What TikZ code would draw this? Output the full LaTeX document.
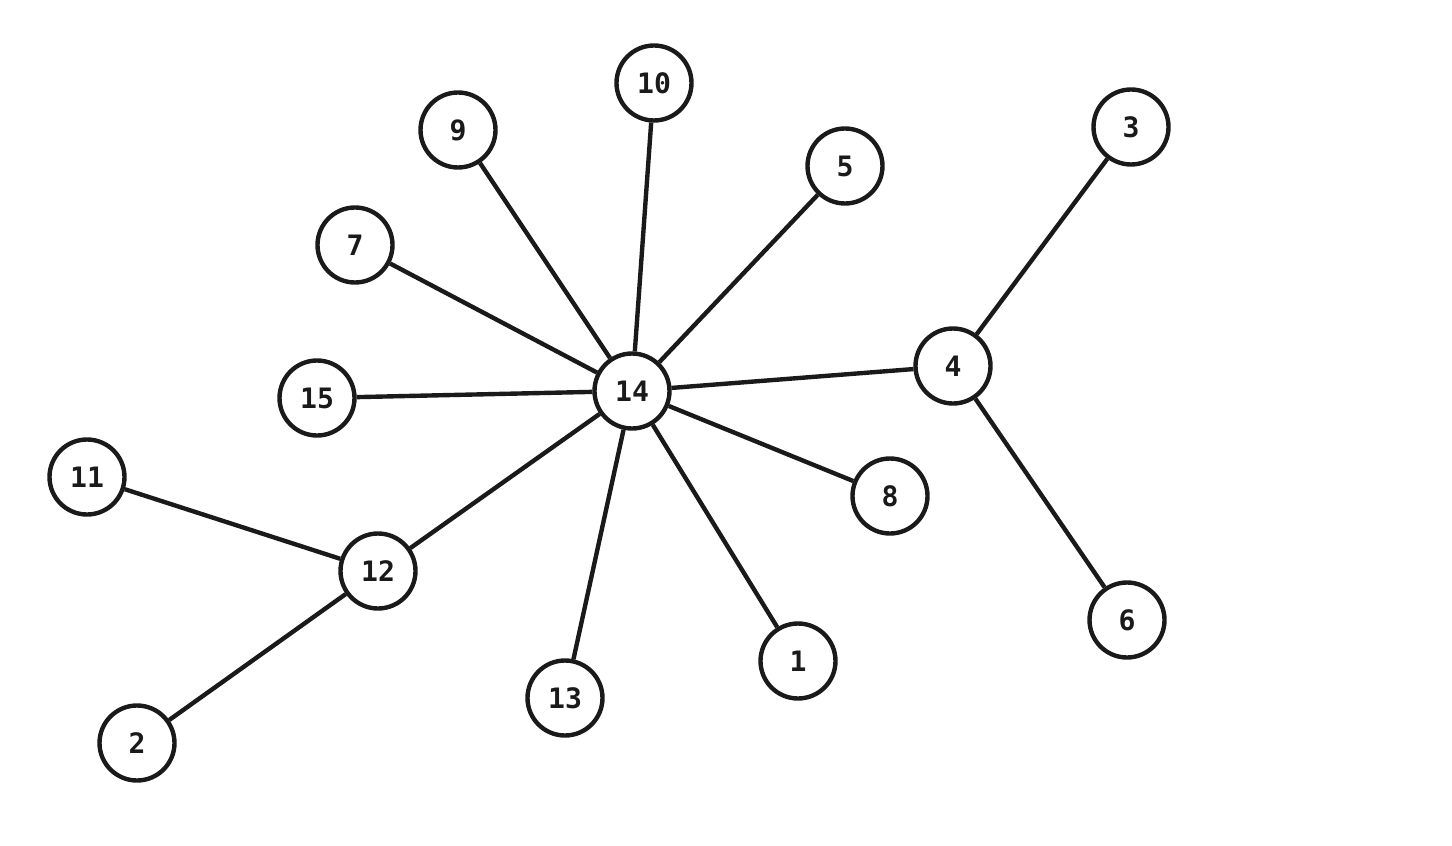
\documentclass[tikz,border=0pt]{standalone}
\usepackage{fontspec}
\setmonofont{DejaVu Sans Mono}
\usepackage{xcolor}
\definecolor{ink}{HTML}{1A1A1A}

\begin{document}
\begin{tikzpicture}[
    vert/.style={circle, draw=ink, fill=white, line width=2.5pt, minimum size=1.5cm,
      inner sep=0pt, font=\ttfamily\bfseries\fontsize{16}{16}\selectfont, text=ink},
    edge/.style={draw=ink, line width=2.5pt}
  ]
  \useasboundingbox (0, 0) rectangle (29.04, -16.92);
  \node[vert] (v10) at (13.08, -1.66) {10};
  \node[vert] (v9) at (9.16, -2.60) {9};
  \node[vert] (v5) at (16.90, -3.32) {5};
  \node[vert] (v3) at (22.62, -2.54) {3};
  \node[vert] (v7) at (7.10, -4.90) {7};
  \node[vert] (v14) at (12.64, -7.82) {14};
  \node[vert] (v4) at (19.06, -7.32) {4};
  \node[vert] (v15) at (6.34, -7.96) {15};
  \node[vert] (v11) at (1.74, -9.54) {11};
  \node[vert] (v8) at (17.80, -9.92) {8};
  \node[vert] (v12) at (7.56, -11.42) {12};
  \node[vert] (v6) at (22.54, -12.40) {6};
  \node[vert] (v1) at (15.96, -13.22) {1};
  \node[vert] (v13) at (11.30, -13.96) {13};
  \node[vert] (v2) at (2.74, -14.86) {2};
  \foreach \a in {v10, v9, v5, v7, v4, v15, v8, v12, v1, v13}
    \draw[edge] (v14) -- (\a);
  \draw[edge] (v4) -- (v3);
  \draw[edge] (v4) -- (v6);
  \draw[edge] (v12) -- (v11);
  \draw[edge] (v12) -- (v2);
\end{tikzpicture}
\end{document}
